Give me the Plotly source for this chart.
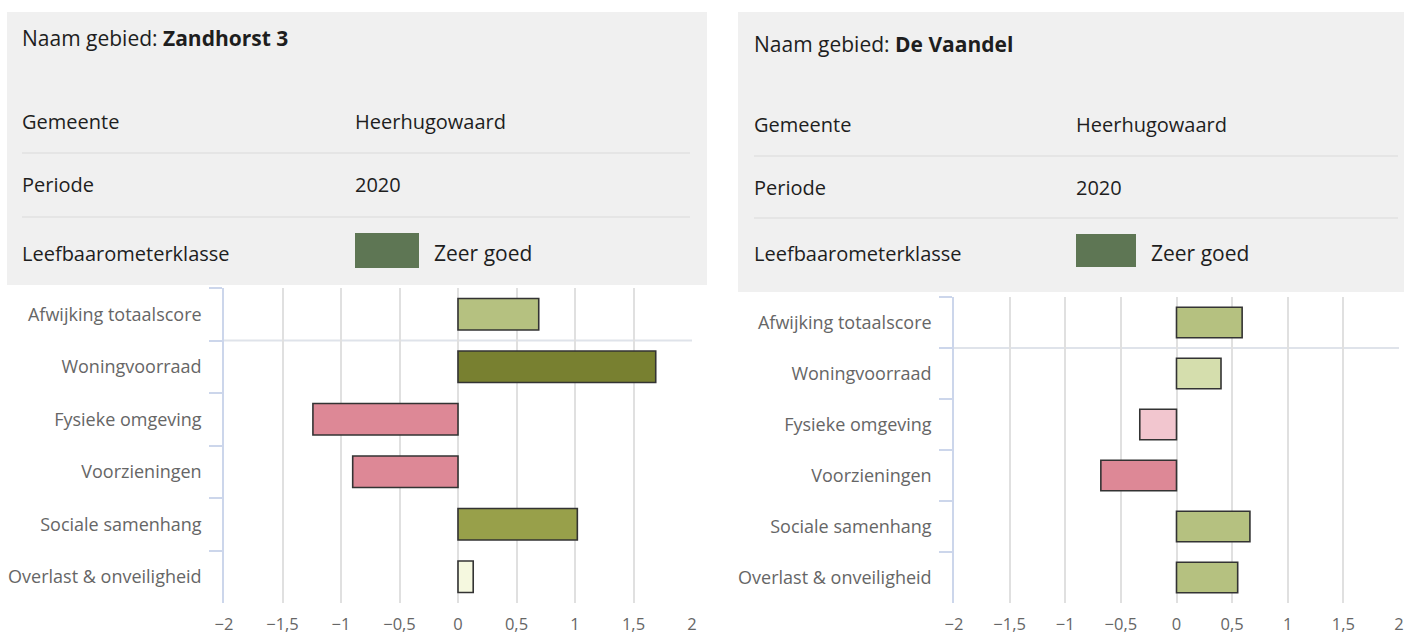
import plotly.graph_objects as go

# --- data -------------------------------------------------------------
categories = [
    "Afwijking totaalscore",
    "Woningvoorraad",
    "Fysieke omgeving",
    "Voorzieningen",
    "Sociale samenhang",
    "Overlast & onveiligheid",
]
zandhorst_scores = [0.69, 1.69, -1.24, -0.90, 1.02, 0.13]
vaandel_scores = [0.59, 0.40, -0.33, -0.68, 0.66, 0.55]

zandhorst_colors = ["#b5c180", "#788030", "#dd8896", "#dd8896", "#98a04a", "#f5f8df"]
vaandel_colors = ["#b5c180", "#d5dead", "#f2c6cf", "#dd8896", "#b5c180", "#b5c180"]

tick_values = [-2, -1.5, -1, -0.5, 0, 0.5, 1, 1.5, 2]
tick_labels = ["−2", "−1,5", "−1", "−0,5", "0", "0,5", "1", "1,5", "2"]

area_names = ["Zandhorst 3", "De Vaandel"]
gemeente = ["Heerhugowaard", "Heerhugowaard"]
periode = ["2020", "2020"]
klasse = ["Zeer goed", "Zeer goed"]
klasse_color = "#5e7654"

# --- geometry helpers (pixel -> paper) ---------------------------------
W, H = 1404, 635


def px(x):
    return x / W


def py(y):
    return 1 - y / H


INFO_FONT = "Open Sans, sans-serif"
CHART_FONT = "Open Sans, sans-serif"
TEXT_DARK = "#1e1e1e"
LABEL_GREY = "#666666"

fig = go.Figure()

panels = [
    dict(scores=zandhorst_scores, colors=zandhorst_colors, xa="x", ya="y",
         xdom=(224, 692), ydom=(288, 603)),
    dict(scores=vaandel_scores, colors=vaandel_colors, xa="x2", ya="y2",
         xdom=(954, 1399), ydom=(297, 603)),
]

for p in panels:
    fig.add_trace(go.Bar(
        x=p["scores"], y=categories, orientation="h",
        marker=dict(color=p["colors"], line=dict(color="#333333", width=1.6)),
        width=0.6, xaxis=p["xa"], yaxis=p["ya"], showlegend=False,
        hoverinfo="x+y",
    ))

axis_common_x = dict(
    range=[-2, 2], tickvals=tick_values, ticktext=tick_labels,
    showgrid=True, gridcolor="#e0e0e0", gridwidth=1.8, zeroline=False,
    showline=False, ticks="", fixedrange=True, automargin=False,
    tickfont=dict(family=CHART_FONT, size=16.5, color=LABEL_GREY),
    ticklabelstandoff=9,
)
axis_common_y = dict(
    type="category", categoryorder="array", categoryarray=categories,
    range=[5.5, -0.5], tickson="boundaries", ticks="outside", ticklen=13,
    tickcolor="#ccd6eb", tickwidth=1.5, showline=True, linecolor="#ccd6eb",
    linewidth=1.5, showgrid=False, zeroline=False, fixedrange=True,
    automargin=False,
    tickfont=dict(family=CHART_FONT, size=18, color=LABEL_GREY),
    ticklabelstandoff=17,
)

p1, p2 = panels
fig.update_layout(
    xaxis=dict(axis_common_x, domain=[px(p1["xdom"][0]), px(p1["xdom"][1])], anchor="y"),
    yaxis=dict(axis_common_y, domain=[py(p1["ydom"][1]), py(p1["ydom"][0])], anchor="x"),
    xaxis2=dict(axis_common_x, domain=[px(p2["xdom"][0]), px(p2["xdom"][1])], anchor="y2"),
    yaxis2=dict(axis_common_y, domain=[py(p2["ydom"][1]), py(p2["ydom"][0])], anchor="x2"),
)

# horizontal separator below the total score row
for p in panels:
    fig.add_shape(type="line", xref=p["xa"] + " domain", yref=p["ya"],
                  x0=0, x1=1, y0=0.5, y1=0.5,
                  line=dict(color="#dfe3ea", width=1.8), layer="below")

# --- info boxes ------------------------------------------------------------
boxes = [
    dict(x0=7, x1=707, y0=12, y1=285, tx=20, vx=353, sep_x1=690,
         rows=(38, 121, 185, 253), seps=(153, 217), sw=(355, 419, 233, 268), kx=432),
    dict(x0=738, x1=1404, y0=12, y1=292, tx=752, vx=1074, sep_x1=1398,
         rows=(44, 125, 187, 253), seps=(156, 218), sw=(1076, 1136, 234, 267), kx=1149),
]


def note(x, y, text, size):
    fig.add_annotation(xref="paper", yref="paper", x=px(x), y=py(y), text=text,
                       showarrow=False, xanchor="left", yanchor="middle",
                       font=dict(family=INFO_FONT, size=size, color=TEXT_DARK))


for i, b in enumerate(boxes):
    fig.add_shape(type="rect", xref="paper", yref="paper",
                  x0=px(b["x0"]), x1=px(b["x1"]), y0=py(b["y1"]), y1=py(b["y0"]),
                  fillcolor="#f0f0f0", line=dict(width=0), layer="below")
    for sy in b["seps"]:
        fig.add_shape(type="line", xref="paper", yref="paper",
                      x0=px(b["tx"] + 2), x1=px(b["sep_x1"]), y0=py(sy), y1=py(sy),
                      line=dict(color="#dadada", width=1.2))
    sx0, sx1, sy0, sy1 = b["sw"]
    fig.add_shape(type="rect", xref="paper", yref="paper",
                  x0=px(sx0), x1=px(sx1), y0=py(sy1), y1=py(sy0),
                  fillcolor=klasse_color, line=dict(width=0))

    r_name, r_gem, r_per, r_kl = b["rows"]
    note(b["tx"], r_name, f"Naam gebied: <b>{area_names[i]}</b>", 21)
    note(b["tx"], r_gem, "Gemeente", 20)
    note(b["vx"], r_gem, gemeente[i], 20)
    note(b["tx"], r_per, "Periode", 20)
    note(b["vx"], r_per, periode[i], 20)
    note(b["tx"], r_kl, "Leefbaarometerklasse", 20)
    note(b["kx"], r_kl, klasse[i], 21)

fig.update_layout(
    width=W, height=H, margin=dict(l=0, r=0, t=0, b=0),
    paper_bgcolor="white", plot_bgcolor="white",
    bargap=0.4,
)

fig.write_html("out.html")
